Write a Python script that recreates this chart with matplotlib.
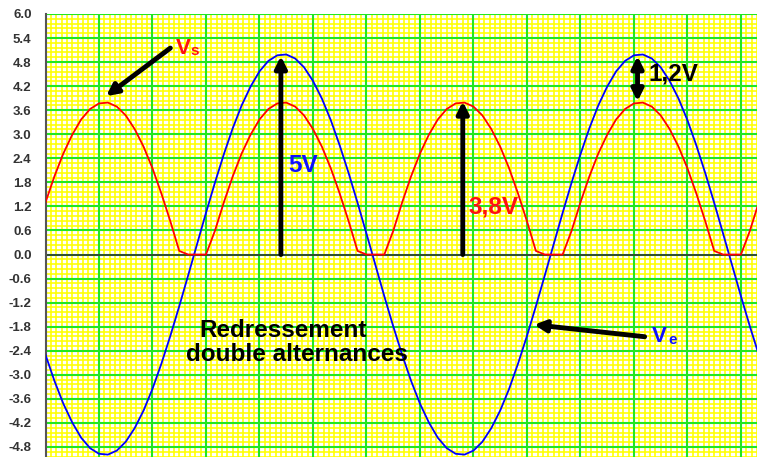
import matplotlib.pyplot as plt
import numpy as np

# temps en ms (pas de 0,5 ms)
t_ms = np.arange(0, 40.5, 0.5)

# tension d'entree Ve (V)
ve = [-2.50, -3.15, -3.72, -4.19, -4.57, -4.83, -4.97, -4.99, -4.89, -4.67,
      -4.33, -3.89, -3.35, -2.72, -2.03, -1.29, -0.52, 0.26, 1.04, 1.79,
      2.50, 3.15, 3.72, 4.19, 4.57, 4.83, 4.97, 4.99, 4.89, 4.67,
      4.33, 3.89, 3.35, 2.72, 2.03, 1.29, 0.52, -0.26, -1.04, -1.79,
      -2.50, -3.15, -3.72, -4.19, -4.57, -4.83, -4.97, -4.99, -4.89, -4.67,
      -4.33, -3.89, -3.35, -2.72, -2.03, -1.29, -0.52, 0.26, 1.04, 1.79,
      2.50, 3.15, 3.72, 4.19, 4.57, 4.83, 4.97, 4.99, 4.89, 4.67,
      4.33, 3.89, 3.35, 2.72, 2.03, 1.29, 0.52, -0.26, -1.04, -1.79,
      -2.50]

# tension de sortie Vs (V) apres redressement
vs = [1.30, 1.95, 2.52, 2.99, 3.37, 3.63, 3.77, 3.79, 3.69, 3.47,
      3.13, 2.69, 2.15, 1.52, 0.83, 0.09, 0.00, 0.00, 0.00, 0.59,
      1.30, 1.95, 2.52, 2.99, 3.37, 3.63, 3.77, 3.79, 3.69, 3.47,
      3.13, 2.69, 2.15, 1.52, 0.83, 0.09, 0.00, 0.00, 0.00, 0.59,
      1.30, 1.95, 2.52, 2.99, 3.37, 3.63, 3.77, 3.79, 3.69, 3.47,
      3.13, 2.69, 2.15, 1.52, 0.83, 0.09, 0.00, 0.00, 0.00, 0.59,
      1.30, 1.95, 2.52, 2.99, 3.37, 3.63, 3.77, 3.79, 3.69, 3.47,
      3.13, 2.69, 2.15, 1.52, 0.83, 0.09, 0.00, 0.00, 0.00, 0.59,
      1.30]

y_ticks = [-4.8, -4.2, -3.6, -3.0, -2.4, -1.8, -1.2, -0.6, 0.0,
           0.6, 1.2, 1.8, 2.4, 3.0, 3.6, 4.2, 4.8, 5.4, 6.0]
y_labels = ["%.1f" % v for v in y_ticks]

fig = plt.figure(figsize=(7.57, 4.57), dpi=100)
ax = fig.add_axes([45.5 / 757, 0, 1 - 45.5 / 757, 443 / 457])
ax.set_xlim(0, 39.9)
ax.set_ylim(-5.05, 6.0)

# grille papier millimetre : fine en jaune, principale en vert
for x in np.arange(0, 40, 0.3):
    ax.axvline(x, color="#ffff00", lw=1.15, zorder=0.5)
for y in np.arange(-5.04, 6.01, 0.12):
    ax.axhline(y, color="#ffff00", lw=1.15, zorder=0.5)
for x in np.arange(3, 40, 3):
    ax.axvline(x, color="#22e622", lw=1.5, zorder=1)
for y in y_ticks:
    ax.axhline(y, color="#22e622", lw=1.5, zorder=1)

ax.set_xticks([])
ax.set_yticks(y_ticks)
ax.set_yticklabels(y_labels)
ax.tick_params(axis="y", length=0, pad=10, labelsize=9.5, labelcolor="#333333")
for lab in ax.get_yticklabels():
    lab.set_fontweight("bold")
    lab.set_family("Liberation Sans")
for s in ["top", "right", "bottom"]:
    ax.spines[s].set_visible(False)
ax.spines["left"].set_color("#555555")
ax.spines["left"].set_linewidth(1.5)
ax.axhline(0, color="#333333", lw=1.2, zorder=2)

ax.plot(t_ms, ve, color="#0000ff", lw=1.3, zorder=3)
ax.plot(t_ms, vs, color="#ff0000", lw=1.3, zorder=3)

# fleches
arr = dict(arrowstyle="-|>", color="black", lw=3.5, mutation_scale=17,
           shrinkA=0, shrinkB=0)
ax.annotate("", xy=(13.2, 4.95), xytext=(13.2, 0), arrowprops=arr, zorder=4)
ax.annotate("", xy=(23.4, 3.82), xytext=(23.4, 0), arrowprops=arr, zorder=4)
ax.annotate("", xy=(33.2, 3.82), xytext=(33.2, 4.95),
            arrowprops=dict(arr, arrowstyle="<|-|>"), zorder=4)
ax.annotate("", xy=(3.4, 3.95), xytext=(7.0, 5.15), arrowprops=arr, zorder=4)
ax.annotate("", xy=(27.4, -1.75), xytext=(33.6, -2.05), arrowprops=arr, zorder=4)

fnt = dict(family="Liberation Sans", weight="bold", fontsize=17.5)
ax.text(13.6, 2.23, "5V", color="#1010ff", ha="left", va="center", **fnt)
ax.text(23.7, 1.18, "3,8V", color="#ff1010", ha="left", va="center", **fnt)
ax.text(33.8, 4.5, "1,2V", color="black", ha="left", va="center", **fnt)
ax.text(13.3, -1.9, "Redressement", color="black", ha="center", va="center", **fnt)
ax.text(14.1, -2.5, "double alternances", color="black", ha="center", va="center", **fnt)

sub = dict(family="Liberation Sans", weight="bold")
ax.text(7.3, 5.15, "V", color="#ff1010", fontsize=16, ha="left", va="center", **sub)
ax.text(8.15, 5.08, "s", color="#ff1010", fontsize=11, ha="left", va="center", **sub)
ax.text(34.0, -2.05, "V", color="#1010ff", fontsize=16, ha="left", va="center", **sub)
ax.text(34.95, -2.12, "e", color="#1010ff", fontsize=11, ha="left", va="center", **sub)

fig.savefig("out.png", dpi=100)
